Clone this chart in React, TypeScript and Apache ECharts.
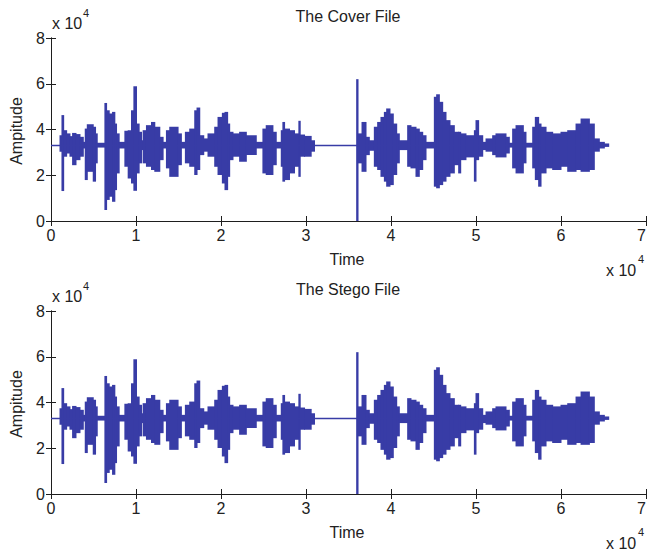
import React, { useEffect, useRef } from "react";
import * as echarts from "echarts";

// ---- data (time in samples, amplitude in raw units) ----
const xTicks = [0, 10000, 20000, 30000, 40000, 50000, 60000, 70000];
const yTicks = [0, 20000, 40000, 60000, 80000];
const baseline = 33000;
const signalEnd = 65610;

// envelope blocks: block i spans coverBounds[i] .. coverBounds[i+1]
const coverBounds = [
  1060, 1290, 1490, 1840, 2230, 2540, 2940, 3410, 3800, 4030,
  4270, 4970, 5240, 5440, 6340, 6540, 6850, 7240, 7510, 7710,
  8020, 8690, 9080, 9470, 9750, 10060, 10370, 10650, 10840, 11230,
  11820, 12210, 12800, 13190, 13580, 13970, 14950, 15340, 15810, 16320,
  16910, 17180, 17500, 17970, 18470, 19260, 19650, 20160, 20470, 20780,
  21020, 21410, 22190, 22980, 24150, 24930, 25320, 26110, 26500, 27090,
  27280, 27480, 28060, 28650, 29160, 29320, 29830, 30610, 31000, 35960,
  36120, 36590, 37060, 37450, 38040, 38430, 38820, 39220, 39490, 39880,
  40270, 40670, 40980, 41960, 42350, 42940, 43330, 43730, 44120, 45100,
  45370, 45690, 46080, 46470, 46940, 47450, 47960, 48200, 48820, 49810,
  50000, 50310, 50790, 51180, 51960, 52350, 53530, 53920, 54310, 54710,
  55570, 55880, 56670, 56980, 57370, 57650, 58240, 59020, 60000, 60790,
  61770, 62360, 63340, 63920, 64510, 65100, 65610,
];
const coverHigh = [
  37500, 46300, 39700, 38300, 37100, 38500, 38000, 36800, 34600, 40400,
  42300, 41200, 38300, 34200, 51600, 48400, 47000, 47700, 42600, 38300,
  34600, 39400, 39700, 48400, 58900, 42600, 39000, 35300, 39700, 41900,
  43300, 41200, 36800, 34600, 39700, 41200, 38300, 34600, 39000, 40400,
  48400, 49600, 37500, 36100, 38300, 41200, 45500, 47300, 47700, 42600,
  39000, 38300, 39000, 37500, 34600, 40400, 41900, 39000, 34600, 39700,
  43300, 40400, 39700, 38300, 43800, 37800, 37200, 35300, 33000, 62000,
  38300, 43300, 36800, 35300, 41200, 43300, 45500, 47700, 49200, 47000,
  42600, 38300, 35300, 41900, 41200, 40400, 39000, 37500, 34600, 54300,
  55400, 52100, 47700, 44100, 41900, 39000, 39000, 38300, 37500, 39700,
  44100, 37500, 34600, 36100, 37500, 38300, 36800, 34200, 40400, 41900,
  39000, 34200, 41200, 45500, 42600, 41200, 39000, 38300, 39000, 39700,
  42600, 44800, 42600, 36100, 34600, 33900,
];
const coverLow = [
  30300, 13100, 28100, 29500, 28100, 24400, 26600, 28100, 31700, 17900,
  21500, 17200, 25200, 32100, 4800, 9200, 10600, 8400, 13500, 20800,
  31700, 23700, 18600, 16400, 13200, 20800, 25200, 31000, 25200, 23700,
  22300, 21500, 26600, 31700, 23000, 19300, 24400, 31700, 25200, 23700,
  20100, 22300, 28800, 30300, 28100, 23700, 20100, 16400, 13500, 19300,
  26600, 28100, 25900, 28800, 31700, 20800, 20100, 24400, 31700, 23700,
  17200, 17900, 20800, 23700, 19300, 28100, 28100, 30300, 33000, 0,
  25200, 21500, 28800, 30700, 23700, 22300, 19300, 17200, 15000, 15700,
  20100, 25200, 31000, 23700, 23000, 19300, 22300, 26600, 31700, 15000,
  14300, 15700, 17200, 19300, 20800, 24400, 20800, 26600, 27800, 17200,
  26600, 28100, 31000, 30300, 28800, 27800, 29500, 32100, 23000, 20800,
  25200, 32100, 23000, 17900, 15000, 20800, 23000, 22300, 23700, 21500,
  22300, 21500, 22300, 30300, 31700, 32400,
];
// the stego signal is visually identical to the cover signal
const stegoBounds = coverBounds;
const stegoHigh = coverHigh;
const stegoLow = coverLow;

const WAVE = "#383ca6";
const AXIS = "#1e1e1e";
const FONT = "Liberation Sans";

function blocks(bounds: number[], hi: number[], lo: number[]) {
  const out: number[][] = [];
  for (let i = 0; i < hi.length; i++) out.push([bounds[i], bounds[i + 1], lo[i], hi[i]]);
  return out;
}

export default function App() {
  const ref = useRef<HTMLDivElement>(null);
  useEffect(() => {
    document.body.style.margin = "0";
    const chart = echarts.init(ref.current!, null, { renderer: "svg" });
    const grids = [
      { left: 51, top: 38, width: 595, height: 183, outerBoundsMode: "none", containLabel: false },
      { left: 51, top: 311, width: 595, height: 183, outerBoundsMode: "none", containLabel: false },
    ];
    const xAxes: any[] = [];
    const yAxes: any[] = [];
    const fmt = (v: number) => String(v / 10000);
    const xMin = xTicks[0], xMax = xTicks[xTicks.length - 1];
    const yMin = yTicks[0], yMax = yTicks[yTicks.length - 1];
    for (let g = 0; g < 2; g++) {
      xAxes.push({
        type: "value", gridIndex: g, position: "bottom", min: xMin, max: xMax, interval: 10000,
        axisLine: { lineStyle: { color: AXIS, width: 1 } },
        axisTick: { inside: true, length: 5, lineStyle: { color: AXIS } },
        axisLabel: {
          formatter: fmt, color: "#222", fontFamily: FONT, fontSize: 16, margin: 6,
          hideOverlap: false, alignMaxLabel: "right",
        },
        splitLine: { show: false },
      });
      xAxes.push({
        type: "value", gridIndex: g, position: "top", min: xMin, max: xMax, interval: 10000,
        axisLine: { lineStyle: { color: AXIS, width: 1 } },
        axisTick: { inside: true, length: 5, lineStyle: { color: AXIS } },
        axisLabel: { show: false }, splitLine: { show: false },
      });
      yAxes.push({
        type: "value", gridIndex: g, position: "left", min: yMin, max: yMax, interval: 20000,
        axisLine: { show: true, lineStyle: { color: AXIS, width: 1 } },
        axisTick: { show: true, inside: true, length: 5, lineStyle: { color: AXIS } },
        axisLabel: { formatter: fmt, color: "#222", fontFamily: FONT, fontSize: 16, margin: 6 },
        splitLine: { show: false },
      });
      yAxes.push({
        type: "value", gridIndex: g, position: "right", min: yMin, max: yMax, interval: 20000,
        axisLine: { show: true, lineStyle: { color: AXIS, width: 1 } },
        axisTick: { show: true, inside: true, length: 5, lineStyle: { color: AXIS } },
        axisLabel: { show: false }, splitLine: { show: false },
      });
    }
    const renderBlock = (params: any, api: any) => {
      const p0 = api.coord([api.value(0), api.value(3)]);
      const p1 = api.coord([api.value(1), api.value(2)]);
      const w = Math.max(p1[0] - p0[0], 1.2);
      return {
        type: "rect",
        shape: { x: p0[0] - 0.5, y: p0[1], width: w + 1, height: Math.max(p1[1] - p0[1], 0) },
        style: { fill: WAVE },
      };
    };
    const sets = [
      blocks(coverBounds, coverHigh, coverLow),
      blocks(stegoBounds, stegoHigh, stegoLow),
    ];
    const series: any[] = [];
    for (let g = 0; g < 2; g++) {
      series.push({
        type: "line", xAxisIndex: g * 2, yAxisIndex: g * 2, symbol: "none",
        data: [[0, baseline], [signalEnd, baseline]],
        lineStyle: { color: WAVE, width: 1.5 }, silent: true,
      });
      series.push({
        type: "custom", xAxisIndex: g * 2, yAxisIndex: g * 2,
        data: sets[g], encode: { x: [0, 1], y: [2, 3] },
        renderItem: renderBlock, silent: true,
      });
    }
    const txt = (x: number, y: number, text: string, extra: any = {}) => ({
      type: "text", x, y,
      style: { text, fill: "#222", font: `16px '${FONT}'`, ...extra },
    });
    const sup = (x: number, y: number) => ({
      type: "text", x, y,
      style: { text: "4", fill: "#222", font: `11px '${FONT}'`, align: "left", verticalAlign: "middle" },
    });
    const graphic: any[] = [];
    const titles = ["The Cover File", "The Stego File"];
    const offs = [0, 273];
    for (let g = 0; g < 2; g++) {
      const o = offs[g];
      graphic.push(txt(348, 16 + o, titles[g], { align: "center", verticalAlign: "middle" }));
      graphic.push(txt(52, 23 + o, "x 10", { align: "left", verticalAlign: "middle" }));
      graphic.push(sup(83, 13 + o));
      graphic.push(txt(347, 259 + o, "Time", { align: "center", verticalAlign: "middle" }));
      graphic.push(txt(606, 270 + o, "x 10", { align: "left", verticalAlign: "middle" }));
      graphic.push(sup(638, 259 + o));
      graphic.push({
        type: "text", x: 16, y: 131 + o, rotation: Math.PI / 2,
        style: { text: "Ampitude", fill: "#222", font: `16px '${FONT}'`, align: "center", verticalAlign: "middle" },
      });
    }
    chart.setOption({
      animation: false,
      backgroundColor: "#ffffff",
      grid: grids,
      xAxis: xAxes,
      yAxis: yAxes,
      series,
      graphic,
    });
    return () => chart.dispose();
  }, []);
  return <div ref={ref} style={{ width: 647, height: 553 }} />;
}
